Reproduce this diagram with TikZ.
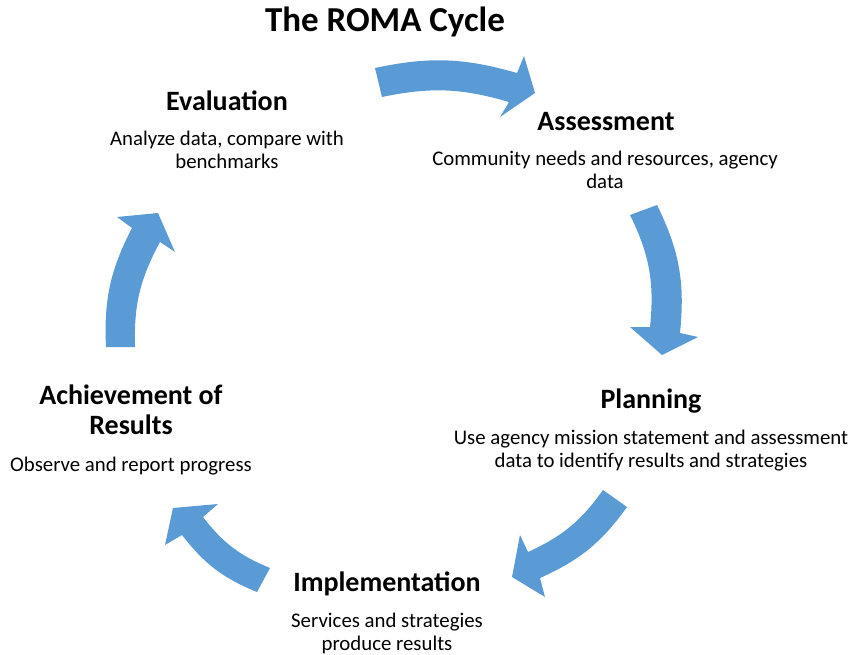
\documentclass[tikz,border=0pt]{standalone}
\usepackage{fontspec}
\setmainfont{Carlito}
\definecolor{roma}{HTML}{5B9BD5}
\begin{document}
\begin{tikzpicture}[x=1pt,y=-1pt,
  blk/.style={fill=roma, draw=none},
  ttl/.style={font=\fontsize{35}{40}\selectfont\bfseries, anchor=base, inner sep=0},
  hd/.style={font=\fontsize{28}{30}\selectfont\bfseries, anchor=base, align=center, inner sep=0},
  desc/.style={font=\fontsize{20.8}{23}\selectfont, anchor=base, align=center, inner sep=0}]
\useasboundingbox (0,0) rectangle (851,655);
% arrows
\fill[blk] (375,68) -- (382,97) to[bend left=14] (509,102) -- (500,117) -- (535,93) -- (524,56) -- (517,73) to[bend right=14] (375,68) -- cycle;
\fill[blk] (630,215) -- (657,205) to[bend left=16] (680,333) -- (698,337) -- (662,355) -- (630,327) -- (650,327) to[bend right=16] (630,215) -- cycle;
\fill[blk] (603,490) -- (627,507) to[bend left=15] (540,578) -- (545,597) -- (512,577) -- (520,535) -- (528,552) to[bend right=15] (603,490) -- cycle;
\fill[blk] (257,592) -- (270,568) to[bend left=15] (203,517) -- (218,504) -- (173,508) -- (165,545) -- (182,535) to[bend right=15] (257,592) -- cycle;
\fill[blk] (106,347) -- (135,347) to[bend left=15] (160,242) -- (175,252) -- (158,213) -- (117,217) -- (132,228) to[bend right=15] (106,347) -- cycle;
% texts (multi-line nodes: base = baseline of last line)
\node[ttl] (title) at (385,32) {The ROMA Cycle};
\node[hd] (evh) at (227,111) {Evaluation};
\node[desc] (evd) at (227,169) {Analyze data, compare with\\benchmarks};
\node[hd] (ash) at (606,131) {Assessment};
\node[desc] (asd) at (605,189) {Community needs and resources, agency\\data};
\node[hd] (plh) at (651,408) {Planning};
\node[desc] (pld) at (651,467) {Use agency mission statement and assessment\\data to identify results and strategies};
\node[hd] (imh) at (387,591) {Implementation};
\node[desc] (imd) at (387,650) {Services and strategies\\produce results};
\node[hd] (ach) at (131,434) {Achievement of\\Results};
\node[desc] (acd) at (131,471) {Observe and report progress};
\end{tikzpicture}
\end{document}
